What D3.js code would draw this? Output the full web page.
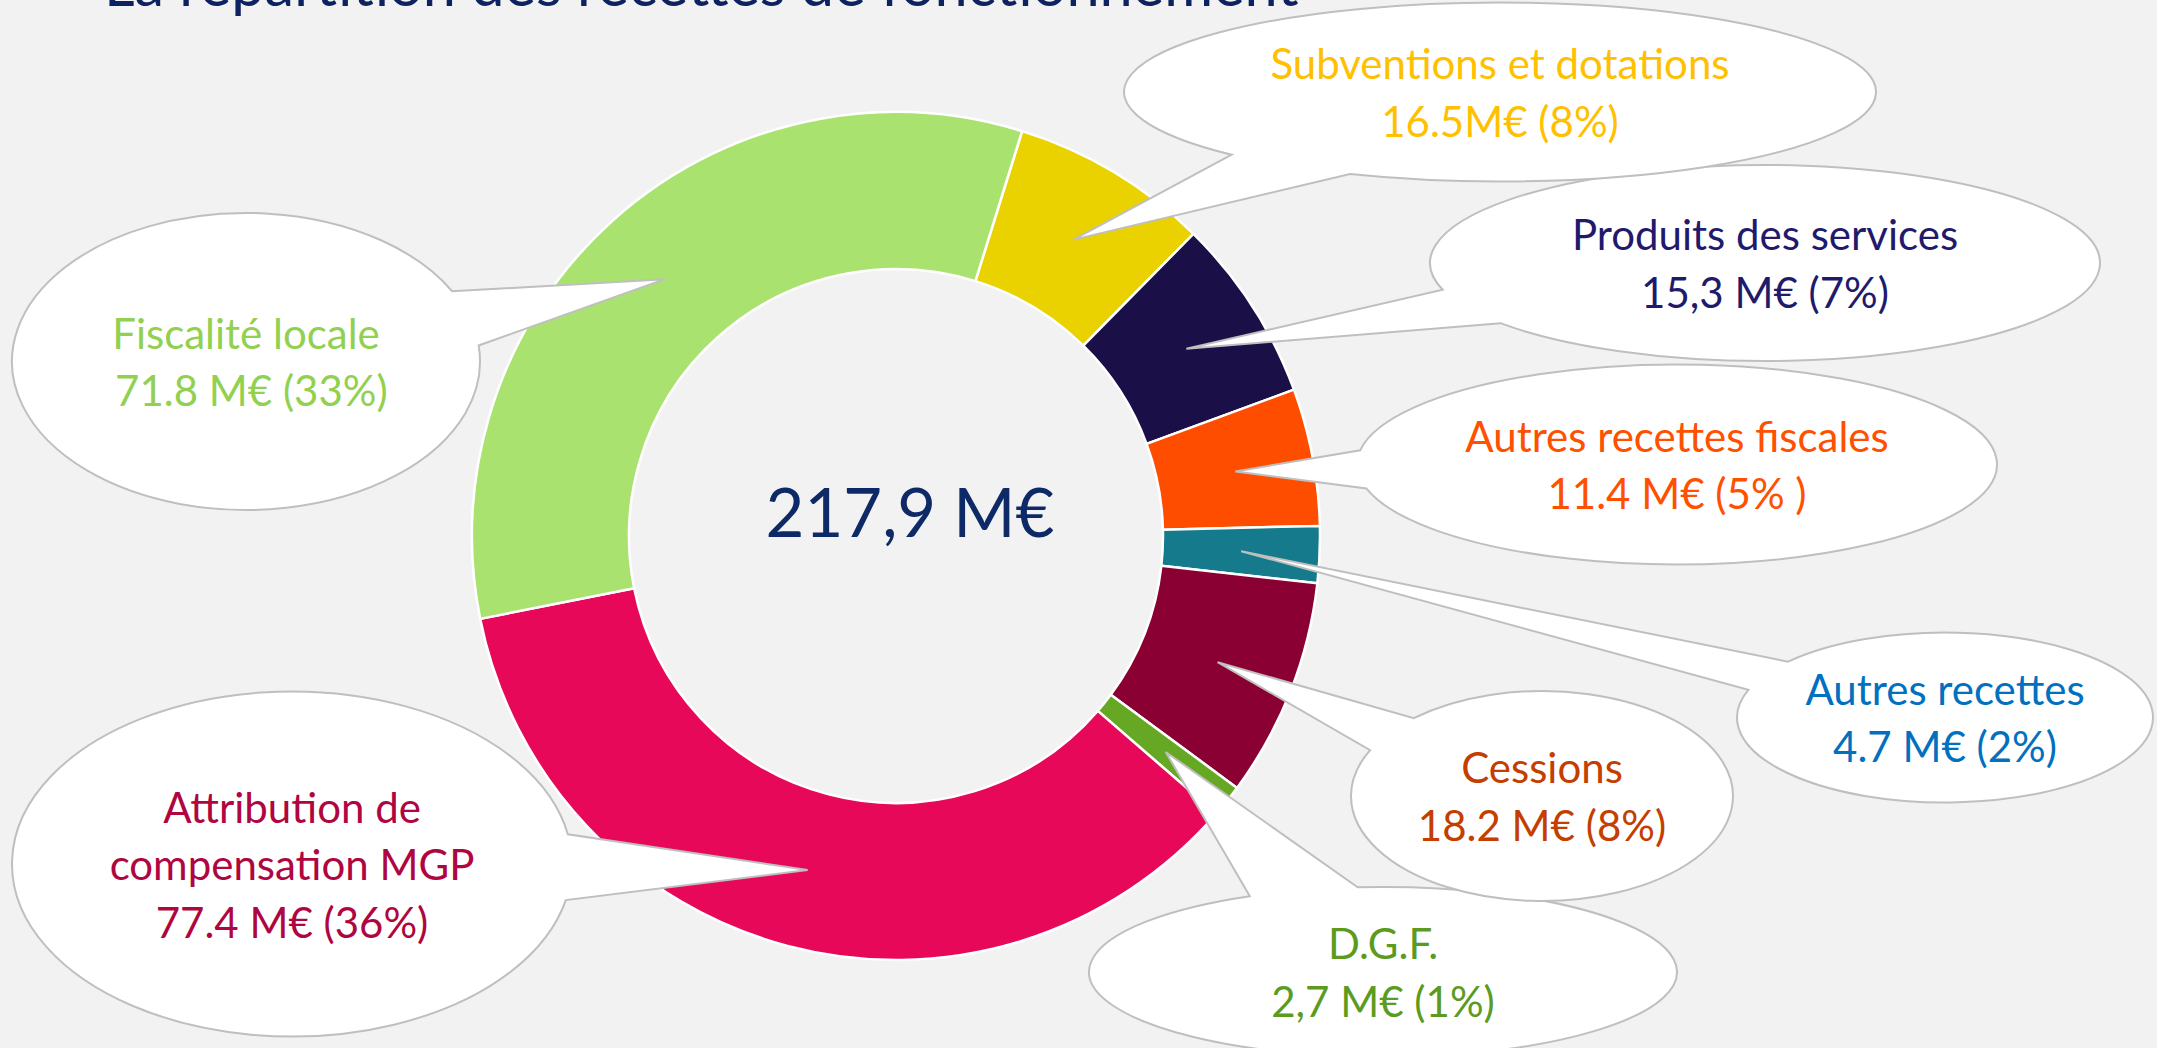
<!DOCTYPE html>
<html>
<head>
<meta charset="utf-8">
<script src="https://cdn.jsdelivr.net/npm/d3@7"></script>
<style>
  html, body { margin: 0; padding: 0; background: #F2F2F2; }
  svg { display: block; }
  text { white-space: pre; }
</style>
</head>
<body>
<script>
// ---- data ----
const title = "La répartition des recettes de fonctionnement";
const totalLabel = "217,9 M€";
const categories = ["Subventions et dotations", "Produits des services", "Autres recettes fiscales",
  "Autres recettes", "Cessions", "D.G.F.", "Attribution de compensation MGP", "Fiscalité locale"];
const values = [16.5, 15.3, 11.4, 4.7, 18.2, 2.7, 77.4, 71.8];
const valueLabels = ["16.5M€ (8%)", "15,3 M€ (7%)", "11.4 M€ (5% )", "4.7 M€ (2%)",
  "18.2 M€ (8%)", "2,7 M€ (1%)", "77.4 M€ (36%)", " 71.8 M€ (33%)"];

// ---- styles ----
const sliceColors = ["#EAD100", "#1B0F48", "#FF4D00", "#157B8C", "#8B0033", "#66A823", "#E8085A", "#AAE270"];
const textColors  = ["#FFC000", "#211A6C", "#FF5000", "#0070C0", "#C43E00", "#5B9B1F", "#B0063F", "#92D050"];
// label line breaks
const nameLines = [["Subventions et dotations"], ["Produits des services"], ["Autres recettes fiscales"],
  ["Autres recettes"], ["Cessions"], ["D.G.F."], ["Attribution de", "compensation MGP"], ["Fiscalité locale"]];
// bubble layout: [cx, cy, rx, ry]
const bubbles = [
  [1500, 92, 376, 89.5],
  [1765, 263, 335, 98],
  [1677, 464.5, 320, 100],
  [1945, 717.5, 208, 85],
  [1542, 796, 191, 105],
  [1383, 972, 294, 85],
  [292, 864, 280, 172.5],
  [246, 361.5, 234, 148.5]
];
const drawOrder = [5, 4, 3, 2, 1, 0, 7, 6];

const W = 2157, H = 1048;
const cx = 896, cy = 536, rOuter = 424, rInner = 267;
const FONT = "Lato, 'Open Sans', sans-serif";

const svg = d3.select("body").append("svg").attr("width", W).attr("height", H);
svg.append("rect").attr("width", W).attr("height", H).attr("fill", "#F2F2F2");

// title (cut at the top as in the reference)
svg.append("text").attr("x", 104).attr("y", 6)
  .attr("font-family", FONT).attr("font-size", 59.5).attr("fill", "#0D2260")
  .text(title);

const a0 = 17.3 * Math.PI / 180;
const pie = d3.pie().sort(null).startAngle(a0).endAngle(a0 + 2 * Math.PI);
const arcs = pie(values);
const arc = d3.arc().innerRadius(rInner).outerRadius(rOuter);

const g = svg.append("g").attr("transform", `translate(${cx},${cy})`);
g.selectAll("path").data(arcs).join("path")
  .attr("d", arc)
  .attr("fill", (d, i) => sliceColors[i])
  .attr("stroke", "#FFFFFF").attr("stroke-width", 2.5).attr("stroke-linejoin", "round");

g.append("text").attr("x", 14).attr("y", 1)
  .attr("text-anchor", "middle")
  .attr("font-family", FONT).attr("font-size", 67).attr("fill", "#0E2A66")
  .text(totalLabel);

// callouts
const spread = 11 * Math.PI / 180;
const LH = 57.5;
drawOrder.forEach(i => {
  const [bx, by, rx, ry] = bubbles[i];
  const c = arc.centroid(arcs[i]);
  const tx = cx + c[0], ty = cy + c[1];
  const t = Math.atan2((ty - by) / ry, (tx - bx) / rx);
  const p = a => [bx + rx * Math.cos(a), by + ry * Math.sin(a)];
  const p1 = p(t - spread), p2 = p(t + spread);
  const path = `M${p2[0]},${p2[1]} A${rx},${ry} 0 1 1 ${p1[0]},${p1[1]} L${tx},${ty} Z`;
  svg.append("path").attr("d", path)
    .attr("fill", "#FFFFFF").attr("stroke", "#BFBFBF").attr("stroke-width", 2)
    .attr("stroke-linejoin", "miter");
  const lines = nameLines[i].concat([valueLabels[i]]);
  const n = lines.length;
  const y0 = by + 16 - (n - 1) * LH / 2;
  const txt = svg.append("text").attr("text-anchor", "middle")
    .attr("font-family", FONT).attr("font-size", 42).attr("fill", textColors[i]);
  lines.forEach((l, k) => {
    txt.append("tspan").attr("x", bx).attr("y", y0 + k * LH).text(l);
  });
});
</script>
</body>
</html>
